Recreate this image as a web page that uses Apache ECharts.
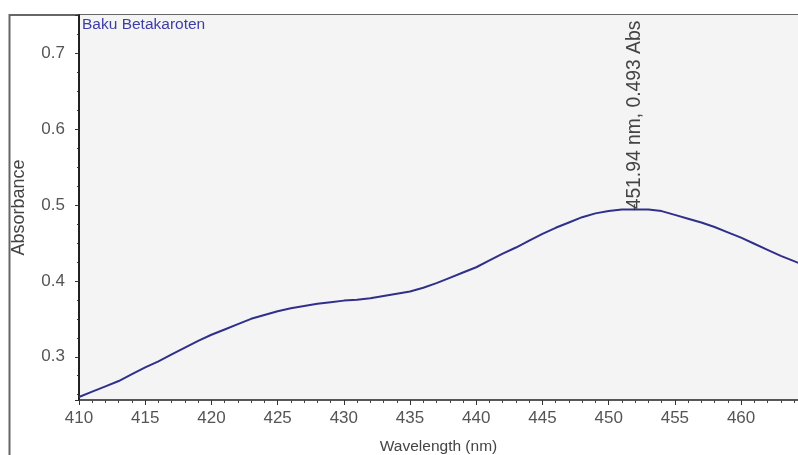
<!DOCTYPE html>
<html>
<head>
<meta charset="utf-8">
<script src="https://cdn.jsdelivr.net/npm/echarts@6/dist/echarts.min.js"></script>
<style>
  html, body { margin: 0; padding: 0; background: #fff; }
  #main { width: 798px; height: 455px; }
</style>
</head>
<body>
<div id="main"></div>
<script>
// spectrum
var wavelengths = [410, 411, 412, 413, 414, 415, 416, 417, 418, 419,
  420, 421, 422, 423, 424, 425, 426, 427, 428, 429,
  430, 431, 432, 433, 434, 435, 436, 437, 438, 439,
  440, 441, 442, 443, 444, 445, 446, 447, 448, 449,
  450, 451, 452, 453, 454, 455, 456, 457, 458, 459,
  460, 461, 462, 463, 464, 465];
var absorbance = [0.247, 0.254, 0.261, 0.268, 0.277, 0.286, 0.294, 0.303, 0.312, 0.321,
  0.329, 0.336, 0.343, 0.350, 0.355, 0.360, 0.364, 0.367, 0.370, 0.372,
  0.374, 0.375, 0.377, 0.380, 0.383, 0.386, 0.391, 0.397, 0.404, 0.411,
  0.418, 0.427, 0.436, 0.444, 0.453, 0.462, 0.470, 0.477, 0.484, 0.489,
  0.492, 0.494, 0.494, 0.494, 0.492, 0.487, 0.482, 0.477, 0.471, 0.464,
  0.457, 0.449, 0.441, 0.433, 0.426, 0.419];
var peakWl = 451.94;
var peakAbs = 0.493;
var seriesName = 'Baku Betakaroten';

var font = '"Liberation Sans", Arial, sans-serif';

var chart = echarts.init(document.getElementById('main'));
var pts = wavelengths.map(function (w, i) { return [w, absorbance[i]]; });

chart.setOption({
  animation: false,
  title: {
    text: seriesName,
    left: 82, top: 17, padding: 0,
    textStyle: { fontFamily: font, fontSize: 15.5, fontWeight: 'normal', color: '#3d3da6' }
  },
  grid: {
    left: 79, top: 15, right: 0, bottom: 55,
    outerBoundsMode: 'none',
    show: true, backgroundColor: '#f4f4f4', borderWidth: 0
  },
  graphic: [{
    type: 'rect', silent: true, z: -1,
    shape: { x: 9.5, y: 15, width: 800, height: 450 },
    style: { fill: null, stroke: '#666', lineWidth: 2 }
  }],
  xAxis: {
    type: 'value', min: 410, max: 464.3, interval: 5,
    name: 'Wavelength (nm)', nameLocation: 'middle', nameGap: 39,
    nameTextStyle: { fontFamily: font, fontSize: 15.5, color: '#444' },
    axisLine: { lineStyle: { color: '#222', width: 1.5 } },
    axisTick: { length: 5, lineStyle: { color: '#333' } },
    minorTick: { show: true, splitNumber: 5, length: 3, lineStyle: { color: '#444' } },
    axisLabel: { fontFamily: font, fontSize: 17, color: '#555', margin: 10, showMaxLabel: false },
    splitLine: { show: false }
  },
  yAxis: {
    type: 'value', min: 0.243, max: 0.7505, splitNumber: 5,
    name: 'Absorbance', nameLocation: 'middle', nameGap: 51,
    nameTextStyle: { fontFamily: font, fontSize: 18, color: '#444' },
    axisLine: { show: true, lineStyle: { color: '#222', width: 2 } },
    axisTick: { show: true, length: 4, lineStyle: { color: '#333' } },
    minorTick: { show: true, splitNumber: 4, length: 2, lineStyle: { color: '#333' } },
    axisLabel: {
      fontFamily: font, fontSize: 17, color: '#555', margin: 14,
      showMinLabel: false, showMaxLabel: false,
      formatter: function (v) { return v.toFixed(1); }
    },
    splitLine: { show: false }
  },
  series: [{
    name: seriesName,
    type: 'line',
    data: pts,
    showSymbol: false,
    smooth: false,
    lineStyle: { color: '#30308a', width: 2 },
    markPoint: {
      silent: true,
      data: [{ coord: [peakWl, peakAbs] }],
      symbol: 'rect',
      symbolSize: [1, 6],
      symbolOffset: [0, -3],
      itemStyle: { color: '#333' },
      label: {
        show: true,
        formatter: peakWl + ' nm, ' + peakAbs + ' Abs',
        position: 'top',
        distance: -5,
        rotate: 90,
        align: 'left',
        verticalAlign: 'middle',
        fontFamily: font,
        fontSize: 19.3,
        color: '#444'
      }
    }
  }]
});
</script>
</body>
</html>
